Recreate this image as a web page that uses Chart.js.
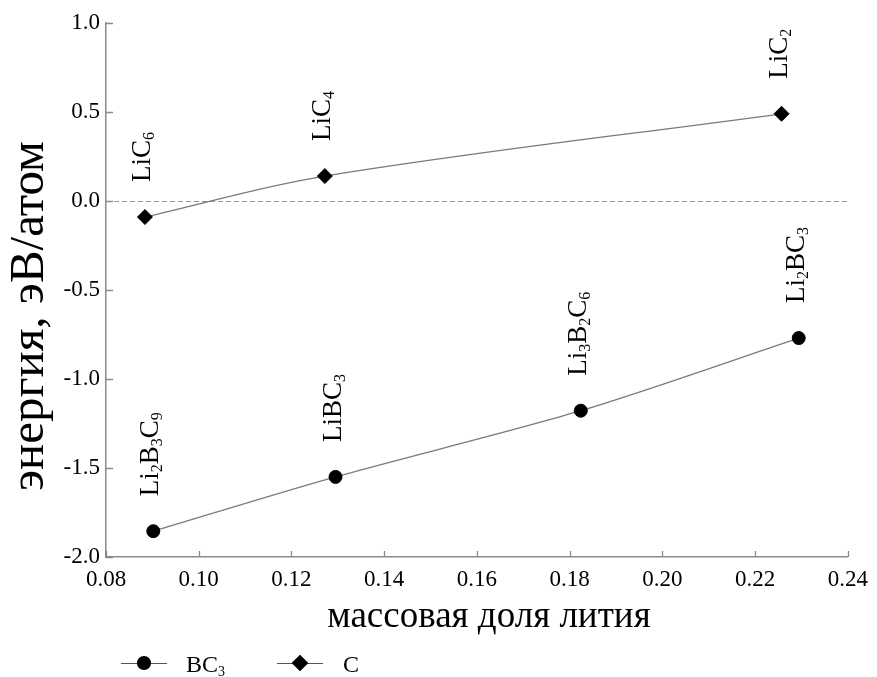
<!DOCTYPE html>
<html>
<head>
<meta charset="utf-8">
<script src="https://cdn.jsdelivr.net/npm/chart.js@4.4.1/dist/chart.umd.min.js"></script>
<style>
html, body { margin: 0; padding: 0; background: #fff; }
canvas { display: block; }
</style>
</head>
<body>
<canvas id="myChart" width="877" height="677"></canvas>
<script>
// C series (diamonds)
const carbonNames = ['LiC6', 'LiC4', 'LiC2'];
const carbonX = [0.0884, 0.1272, 0.2257];
const carbonY = [-0.09, 0.14, 0.49];

// BC3 series (circles)
const boronNames = ['Li2B3C9', 'LiBC3', 'Li3B2C6', 'Li2BC3'];
const boronX = [0.0902, 0.1295, 0.1824, 0.2294];
const boronY = [-1.855, -1.55, -1.178, -0.77];

const seriesNames = ['BC3', 'C'];
const xTicks = [0.08, 0.10, 0.12, 0.14, 0.16, 0.18, 0.20, 0.22, 0.24];
const yTicks = [-2.0, -1.5, -1.0, -0.5, 0.0, 0.5, 1.0];

const xTitle = 'массовая доля лития';
const yTitle = 'энергия, эВ/атом';

const serif = "'Liberation Serif', 'Times New Roman', serif";
const axisColor = '#8a8a8a';
const lineColor = '#7a7a7a';

// writes a formula, digits as subscripts; returns width
function chem(ctx, text, x, y, size) {
    let cx = x;
    const parts = text.match(/\d+|\D+/g);
    for (const p of parts) {
        if (/\d/.test(p)) {
            ctx.font = Math.round(size * 0.6) + 'px ' + serif;
            ctx.fillText(p, cx, y + size * 0.15);
        } else {
            ctx.font = size + 'px ' + serif;
            ctx.fillText(p, cx, y);
        }
        cx += ctx.measureText(p).width;
    }
    return cx - x;
}

const extras = {
    id: 'extras',
    beforeDatasetsDraw(chart) {
        const ctx = chart.ctx;
        const x = chart.scales.x, y = chart.scales.y;
        // dashed zero line
        ctx.save();
        ctx.strokeStyle = '#9a9a9a';
        ctx.lineWidth = 1;
        ctx.setLineDash([5, 3]);
        const y0 = Math.round(y.getPixelForValue(0)) + 0.5;
        ctx.beginPath();
        ctx.moveTo(x.left, y0);
        ctx.lineTo(x.right + 2, y0);
        ctx.stroke();
        ctx.restore();

        // inward ticks
        ctx.save();
        ctx.strokeStyle = axisColor;
        ctx.lineWidth = 1.3;
        ctx.beginPath();
        y.ticks.forEach(t => {
            const py = Math.round(y.getPixelForValue(t.value)) + 0.5;
            ctx.moveTo(x.left, py);
            ctx.lineTo(x.left + 7, py);
        });
        x.ticks.forEach(t => {
            const px = Math.round(x.getPixelForValue(t.value)) + 0.5;
            ctx.moveTo(px, y.bottom);
            ctx.lineTo(px, y.bottom - 6);
        });
        ctx.stroke();
        ctx.restore();
    },
    afterDraw(chart) {
        const ctx = chart.ctx;
        const area = chart.chartArea;
        ctx.save();
        ctx.fillStyle = '#000';
        ctx.textAlign = 'left';
        ctx.textBaseline = 'alphabetic';

        // formula labels above points
        const names = [boronNames, carbonNames];
        names.forEach((list, i) => {
            const meta = chart.getDatasetMeta(i);
            list.forEach((name, j) => {
                const pt = meta.data[j];
                ctx.save();
                ctx.translate(pt.x + 5, pt.y - 35);
                ctx.rotate(-Math.PI / 2);
                chem(ctx, name, 0, 0, 27);
                ctx.restore();
            });
        });

        // axis titles
        ctx.font = '37px ' + serif;
        ctx.textAlign = 'center';
        ctx.fillText(xTitle, (area.left + area.right) / 2 + 12, 627);

        ctx.save();
        ctx.translate(43, (area.top + area.bottom) / 2 + 26);
        ctx.rotate(-Math.PI / 2);
        ctx.font = '49px ' + serif;
        ctx.fillText(yTitle, 0, 0);
        ctx.restore();

        // legend: line with marker, then name
        ctx.textAlign = 'left';
        const slots = [{ cx: 144, tx: 186 }, { cx: 300, tx: 343 }];
        const ly = 663;
        chart.data.datasets.forEach((ds, i) => {
            const s = slots[i];
            ctx.strokeStyle = '#555';
            ctx.lineWidth = 1.2;
            ctx.beginPath();
            ctx.moveTo(s.cx - 23, ly + 0.5);
            ctx.lineTo(s.cx + 23, ly + 0.5);
            ctx.stroke();
            ctx.fillStyle = '#000';
            ctx.strokeStyle = '#000';
            Chart.helpers.drawPoint(ctx, {
                pointStyle: ds.pointStyle,
                radius: ds.pointRadius,
                rotation: 0,
                borderWidth: 1
            }, s.cx, ly);
            ctx.fillStyle = '#000';
            chem(ctx, seriesNames[i], s.tx, ly + 9, 24);
        });
        ctx.restore();
    }
};

const ctx = document.getElementById('myChart').getContext('2d');
const chart = new Chart(ctx, {
    type: 'line',
    data: {
        datasets: [{
            label: seriesNames[0],
            data: boronX.map((v, i) => ({ x: v, y: boronY[i] })),
            borderColor: lineColor,
            borderWidth: 1.3,
            tension: 0.3,
            pointStyle: 'circle',
            pointRadius: 6.5,
            pointBackgroundColor: '#000',
            pointBorderColor: '#000',
            pointBorderWidth: 1
        }, {
            label: seriesNames[1],
            data: carbonX.map((v, i) => ({ x: v, y: carbonY[i] })),
            borderColor: lineColor,
            borderWidth: 1.3,
            tension: 0.35,
            pointStyle: 'rectRot',
            pointRadius: 7.5,
            pointBackgroundColor: '#000',
            pointBorderColor: '#000',
            pointBorderWidth: 1
        }]
    },
    options: {
        responsive: false,
        animation: false,
        layout: { padding: { left: 0, top: 23, right: 28, bottom: 0 } },
        plugins: {
            legend: { display: false },
            tooltip: { enabled: false }
        },
        scales: {
            x: {
                type: 'linear',
                min: 0.08,
                max: 0.24,
                afterBuildTicks: s => { s.ticks = xTicks.map(v => ({ value: v })); },
                afterFit: s => { s.height = 120; },
                grid: { display: false, drawTicks: false },
                border: { display: true, color: axisColor, width: 1.5 },
                ticks: {
                    padding: 9,
                    color: '#000',
                    font: { family: serif, size: 23 },
                    callback: v => v.toFixed(2)
                }
            },
            y: {
                min: -2,
                max: 1,
                afterBuildTicks: s => { s.ticks = yTicks.map(v => ({ value: v })); },
                afterFit: s => { s.width = 106; },
                grid: { display: false, drawTicks: false },
                border: { display: true, color: axisColor, width: 1.5 },
                ticks: {
                    padding: 6,
                    color: '#000',
                    font: { family: serif, size: 23 },
                    callback: v => v.toFixed(1)
                }
            }
        }
    },
    plugins: [extras]
});
</script>
</body>
</html>
